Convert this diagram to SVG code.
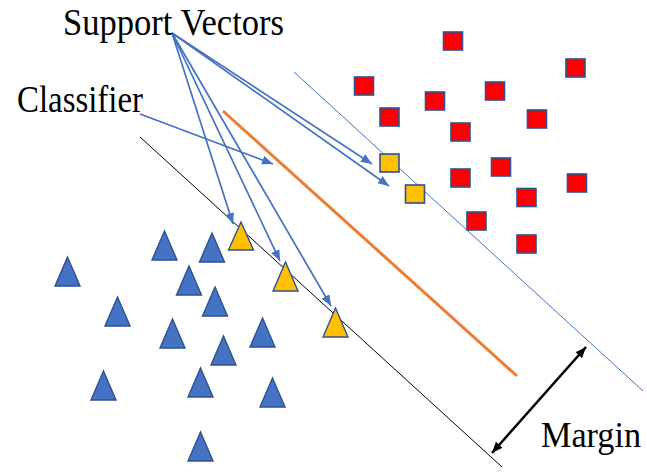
<svg xmlns="http://www.w3.org/2000/svg" width="647" height="476" viewBox="0 0 647 476">
<defs>
<style>
.sq{fill:#FF0000;stroke:#2F528F;stroke-width:1.6}
.sqy{fill:#FFC000;stroke:#2F528F;stroke-width:1.6}
.tri{fill:#4472C4;stroke:#2F528F;stroke-width:1.4}
.triy{fill:#FFC000;stroke:#2F528F;stroke-width:1.4}
.lbl{font-family:"Liberation Serif","Times New Roman",serif;font-size:38px;fill:#000}
.ptr{stroke:#4472C4;stroke-width:1.7;fill:none;marker-end:url(#ab)}
</style>
<marker id="ab" markerUnits="userSpaceOnUse" markerWidth="12" markerHeight="10" refX="11" refY="4.5" orient="auto">
<path d="M0,0 L11,4.5 L0,9 z" fill="#4472C4"/>
</marker>
<marker id="ak" markerUnits="userSpaceOnUse" markerWidth="12" markerHeight="10" refX="11" refY="4.5" orient="auto-start-reverse">
<path d="M0,0 L11,4.5 L0,9 z" fill="#000"/>
</marker>
</defs>
<rect width="647" height="476" fill="#fff"/>
<g id="lines">
<line x1="140" y1="137" x2="502" y2="467" stroke="#000" stroke-width="1"/>
<line x1="294" y1="72" x2="643" y2="391" stroke="#4472C4" stroke-width="1"/>
<line x1="223" y1="111" x2="517" y2="376" stroke="#ED7D31" stroke-width="3"/>
</g>
<g id="squares">
<rect class="sq" x="443.5" y="32" width="19" height="18"/>
<rect class="sq" x="566" y="59" width="19" height="18"/>
<rect class="sq" x="354.5" y="77" width="19" height="18"/>
<rect class="sq" x="485.5" y="82" width="19" height="18"/>
<rect class="sq" x="425.5" y="92" width="19" height="18"/>
<rect class="sq" x="380" y="108" width="19" height="18"/>
<rect class="sq" x="527.5" y="110" width="19" height="18"/>
<rect class="sq" x="451" y="123" width="19" height="18"/>
<rect class="sq" x="491.5" y="158" width="19" height="18"/>
<rect class="sq" x="451" y="169" width="19" height="18"/>
<rect class="sq" x="567.5" y="174" width="19" height="18"/>
<rect class="sq" x="517" y="188.5" width="19" height="18"/>
<rect class="sq" x="467" y="212" width="19" height="18"/>
<rect class="sq" x="517" y="235" width="19" height="18"/>
</g>
<g id="sv-squares">
<rect class="sqy" x="380" y="154" width="19" height="18"/>
<rect class="sqy" x="405.5" y="185" width="19" height="18"/>
</g>
<g id="triangles">
<polygon class="tri" points="164.5,231 177,260 152,260"/>
<polygon class="tri" points="212,233 224.5,262 199.5,262"/>
<polygon class="tri" points="67.5,257 80,286 55,286"/>
<polygon class="tri" points="189,266 201.5,295 176.5,295"/>
<polygon class="tri" points="215,287 227.5,316 202.5,316"/>
<polygon class="tri" points="117.5,297 130,326 105,326"/>
<polygon class="tri" points="172.5,319 185,348 160,348"/>
<polygon class="tri" points="262.5,318 275,347 250,347"/>
<polygon class="tri" points="223.5,336 236,365 211,365"/>
<polygon class="tri" points="103.5,371 116,400 91,400"/>
<polygon class="tri" points="200.5,368 213,397 188,397"/>
<polygon class="tri" points="272.5,378 285,407 260,407"/>
<polygon class="tri" points="200.5,432 213,461 188,461"/>
</g>
<g id="sv-triangles">
<polygon class="triy" points="241,222 253.5,250 228.5,250"/>
<polygon class="triy" points="285.5,262 298,291 273,291"/>
<polygon class="triy" points="335.5,308 348,337 323,337"/>
</g>
<g id="connectors">
<line class="ptr" x1="172" y1="33" x2="372" y2="164"/>
<line class="ptr" x1="172" y1="33" x2="389" y2="186"/>
<line class="ptr" x1="172" y1="33" x2="233" y2="224"/>
<line class="ptr" x1="172" y1="33" x2="280" y2="261"/>
<line class="ptr" x1="172" y1="33" x2="331" y2="306"/>
<line class="ptr" x1="140" y1="114" x2="273" y2="164"/>
<line x1="586" y1="347" x2="492" y2="453" stroke="#000" stroke-width="2.5" marker-start="url(#ak)" marker-end="url(#ak)"/>
</g>
<g id="label-support-vectors">
<text class="lbl" x="63" y="35" textLength="221" lengthAdjust="spacingAndGlyphs">Support Vectors</text>
</g>
<g id="label-classifier">
<text class="lbl" x="17" y="112" textLength="126" lengthAdjust="spacingAndGlyphs">Classifier</text>
</g>
<g id="label-margin">
<text class="lbl" x="541" y="447" style="font-size:35.5px" textLength="100" lengthAdjust="spacingAndGlyphs">Margin</text>
</g>
</svg>
